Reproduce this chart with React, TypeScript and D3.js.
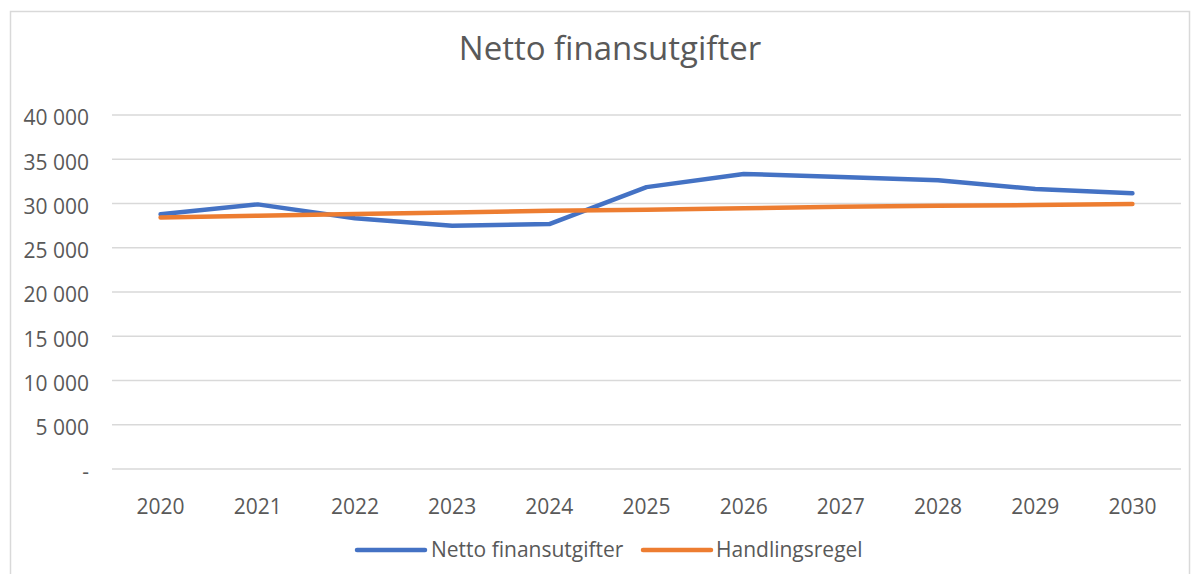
import React from 'react';
import * as d3 from 'd3';

const years = ['2020', '2021', '2022', '2023', '2024', '2025', '2026', '2027', '2028', '2029', '2030'];
const nettoFinansutgifter = [28780, 29900, 28330, 27490, 27680, 31850, 33340, 33000, 32640, 31640, 31150];
const handlingsregel = [28430, 28620, 28800, 28990, 29180, 29290, 29450, 29640, 29750, 29830, 29950];
const yTicks = [0, 5000, 10000, 15000, 20000, 25000, 30000, 35000, 40000];

const series = [
    { name: 'Netto finansutgifter', values: nettoFinansutgifter, color: '#4472C4' },
    { name: 'Handlingsregel', values: handlingsregel, color: '#ED7D31' }
];

const width = 1197;
const height = 574;
const margin = { top: 115, left: 112 };
const font = '"Open Sans", "Noto Sans", sans-serif';
const textColor = '#595959';

const locale = d3.formatLocale({ decimal: ',', thousands: ' ', grouping: [3], currency: ['', ''] });
const fmt = (v: number) => (v === 0 ? '-' : locale.format(',d')(v));

const App = () => {
    const innerW = 1181 - margin.left;
    const innerH = 469 - margin.top;

    const x = d3.scaleBand().domain(years).range([0, innerW]);
    const y = d3.scaleLinear().domain([0, 40000]).range([innerH, 0]);

    const lineGen = d3.line<number>()
        .x((_, i) => (x(years[i]) as number) + x.bandwidth() / 2)
        .y((d) => y(d));

    // legend layout
    const legend = [
        { x: 357, textX: 431 },
        { x: 643, textX: 716 }
    ];

    return (
        <svg width={width} height={height} style={{ position: 'absolute', left: 0, top: 0, background: '#fff' }}>
            <rect x={10.5} y={11.5} width={1179} height={600} fill="#fff" stroke="#d9d9d9" strokeWidth={1.5} />
            <text x={610} y={51} textAnchor="middle" dominantBaseline="middle"
                fontFamily={font} fontSize={33} fill={textColor} fontWeight={400}>
                Netto finansutgifter
            </text>
            <g transform={`translate(${margin.left},${margin.top})`}>
                {yTicks.map((t) => (
                    <g key={t}>
                        <line x1={0} x2={innerW} y1={y(t)} y2={y(t)} stroke="#d9d9d9" strokeWidth={1.5} />
                        <text x={-23} y={y(t) + 3} dy="0.35em" textAnchor="end"
                            fontFamily={font} fontSize={21} fill={textColor}>
                            {fmt(t)}
                        </text>
                    </g>
                ))}
                {years.map((yr) => (
                    <text key={yr} x={(x(yr) as number) + x.bandwidth() / 2} y={innerH + 38} dy="0.35em"
                        textAnchor="middle" fontFamily={font} fontSize={21} fill={textColor}>
                        {yr}
                    </text>
                ))}
                {series.map((s) => (
                    <path key={s.name} d={lineGen(s.values) || ''} fill="none" stroke={s.color}
                        strokeWidth={4.5} strokeLinecap="round" strokeLinejoin="round" />
                ))}
            </g>
            {series.map((s, i) => (
                <g key={s.name}>
                    <line x1={legend[i].x} x2={legend[i].x + 68} y1={550} y2={550} stroke={s.color}
                        strokeWidth={4.5} strokeLinecap="round" />
                    <text x={legend[i].textX} y={550} dy="0.35em" fontFamily={font} fontSize={21} fill={textColor}>
                        {s.name}
                    </text>
                </g>
            ))}
        </svg>
    );
};

export default App;
